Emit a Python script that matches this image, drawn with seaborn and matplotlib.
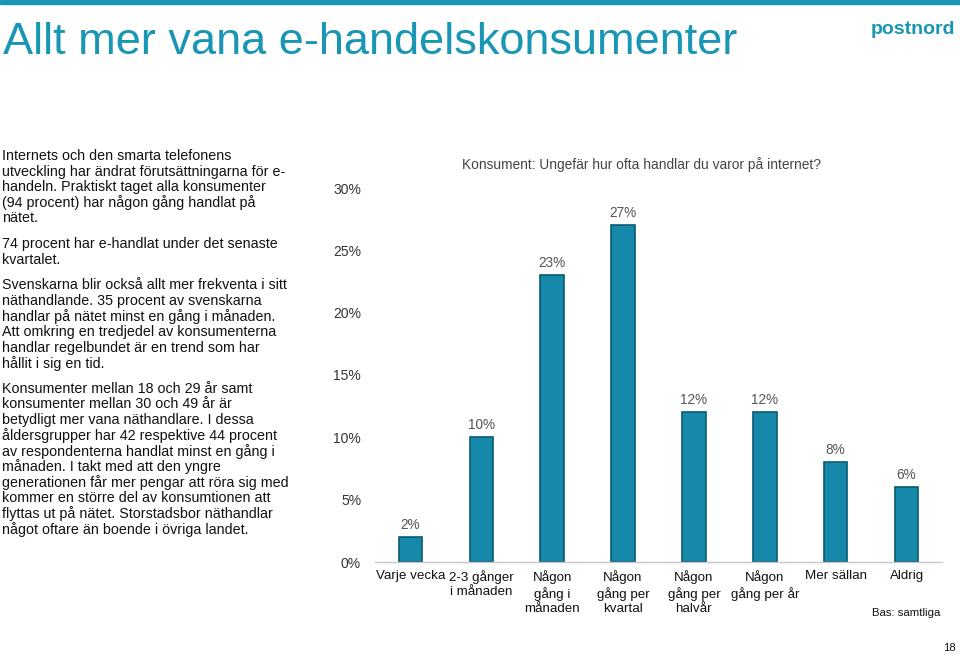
import matplotlib
matplotlib.use("Agg")
import matplotlib.pyplot as plt
import seaborn as sns
import pandas as pd

# Data
categories = ["Varje vecka", "2-3 gånger\ni månaden", "Någon\ngång i\nmånaden",
              "Någon\ngång per\nkvartal", "Någon\ngång per\nhalvår", "Någon\ngång per år",
              "Mer sällan", "Aldrig"]
values = [2, 10, 23, 27, 12, 12, 8, 6]
yticks = [0, 5, 10, 15, 20, 25, 30]
ytick_labels = ["0%", "5%", "10%", "15%", "20%", "25%", "30%"]

title = "Allt mer vana e-handelskonsumenter"
chart_title = "Konsument: Ungefär hur ofta handlar du varor på internet?"
paragraphs = [
    ["Internets och den smarta telefonens",
     "utveckling har ändrat förutsättningarna för e-",
     "handeln. Praktiskt taget alla konsumenter",
     "(94 procent) har någon gång handlat på",
     "nätet."],
    ["74 procent har e-handlat under det senaste",
     "kvartalet."],
    ["Svenskarna blir också allt mer frekventa i sitt",
     "näthandlande. 35 procent av svenskarna",
     "handlar på nätet minst en gång i månaden.",
     "Att omkring en tredjedel av konsumenterna",
     "handlar regelbundet är en trend som har",
     "hållit i sig en tid."],
    ["Konsumenter mellan 18 och 29 år samt",
     "konsumenter mellan 30 och 49 år är",
     "betydligt mer vana näthandlare. I dessa",
     "åldersgrupper har 42 respektive 44 procent",
     "av respondenterna handlat minst en gång i",
     "månaden. I takt med att den yngre",
     "generationen får mer pengar att röra sig med",
     "kommer en större del av konsumtionen att",
     "flyttas ut på nätet. Storstadsbor näthandlar",
     "något oftare än boende i övriga landet."],
]

teal = "#1896b4"
bar_color = "#1689aa"

sns.set_style("white")
plt.rcParams["font.family"] = ["Liberation Sans", "DejaVu Sans"]

W, H = 960, 654
fig = plt.figure(figsize=(W / 100, H / 100), dpi=100)

# top rule
fig.add_artist(plt.Rectangle((0, 1 - 4 / H), 1, 4 / H, color=teal, transform=fig.transFigure))

fig.text(3 / W, 1 - 43 / H, title, fontsize=32.5, color=teal, va="center", ha="left")
fig.text(955 / W, 1 - 30 / H, "postnord", fontsize=14, fontweight="bold", color=teal,
         va="center", ha="right")

# left text
y = 156
for para in paragraphs:
    for line in para:
        fig.text(2 / W, 1 - y / H, line, fontsize=10.3, color="#111111", va="center", ha="left")
        y += 15.6
    y += 10

ax = fig.add_axes([375 / W, 1 - 562 / H, (942 - 375) / W, (562 - 188) / H])
df = pd.DataFrame({"cat": categories, "val": values})
sns.barplot(data=df, x="cat", y="val", color=bar_color, width=0.33, ax=ax,
            edgecolor="#0b5a72", linewidth=1.2, saturation=1)
ax.bar_label(ax.containers[0], labels=[f"{v}%" for v in values], padding=4,
             fontsize=9.8, color="#555555")

ax.set_xlim(-0.5, 7.5)
ax.set_ylim(0, 30)
ax.set_yticks(yticks)
ax.set_yticklabels(ytick_labels, fontsize=10, color="#333333")
ax.tick_params(axis="y", length=0, pad=10)
ax.tick_params(axis="x", length=0, pad=6, labelsize=9.6, labelcolor="#111111")
for lab in ax.get_xticklabels():
    lab.set_verticalalignment("top")
    lab.set_linespacing(1.22)
ax.set_xlabel("")
ax.set_ylabel("")
for s in ["top", "right", "left"]:
    ax.spines[s].set_visible(False)
ax.spines["bottom"].set_color("#c8c8c8")
ax.spines["bottom"].set_linewidth(1)

fig.text(642 / W, 1 - 165 / H, chart_title, fontsize=9.9, color="#444444",
         ha="center", va="center")
fig.text(940 / W, 1 - 613 / H, "Bas: samtliga", fontsize=8.2, color="#111111",
         ha="right", va="center")
fig.text(956 / W, 1 - 648 / H, "18", fontsize=8.2, color="#111111", ha="right", va="center")

fig.savefig("out.png", dpi=100)
